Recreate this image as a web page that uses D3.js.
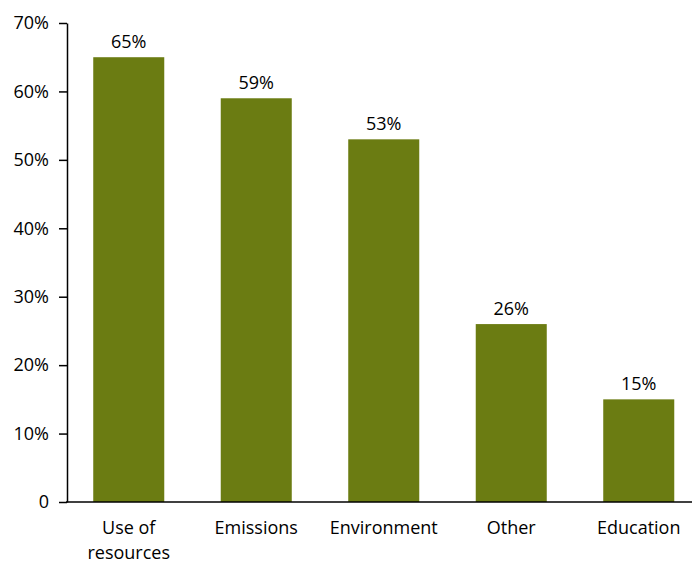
<!DOCTYPE html>
<html><head><meta charset="utf-8">
<script src="https://cdn.jsdelivr.net/npm/d3@7"></script>
<style>body{margin:0;background:#fff}svg{display:block}text{font-family:"Open Sans",sans-serif;fill:#000}</style>
</head><body>
<script>
const categories = [["Use of","resources"],["Emissions"],["Environment"],["Other"],["Education"]];
const values = [0.65, 0.59, 0.53, 0.26, 0.15];
const yTicks = [0,0.1,0.2,0.3,0.4,0.5,0.6,0.7];
const yTickLabels = ["0","10%","20%","30%","40%","50%","60%","70%"];
const valueLabels = ["65%","59%","53%","26%","15%"];

const FS=18, FF="'Open Sans',sans-serif";
const W=692,H=563;
const svg=d3.select("body").append("svg").attr("width",W).attr("height",H);
const x=d3.scaleBand().domain(d3.range(categories.length)).range([65,702.5]).paddingInner(0.443).paddingOuter(0.2215);
const y=d3.scaleLinear().domain([0,0.7]).range([502,23]);

svg.selectAll("rect.bar").data(values).join("rect").attr("class","bar")
 .attr("x",(d,i)=>x(i)).attr("width",x.bandwidth())
 .attr("y",d=>y(d)).attr("height",d=>y(0)-y(d)).attr("fill","#6b7c12");

svg.selectAll("text.val").data(values).join("text").attr("class","val")
 .attr("x",(d,i)=>x(i)+x.bandwidth()/2).attr("y",d=>y(d)-9)
 .attr("text-anchor","middle").attr("font-size",FS).text((d,i)=>valueLabels[i]);

const ya=svg.append("g").attr("transform","translate(67,0)")
 .call(d3.axisLeft(y).tickValues(yTicks).tickFormat((d,i)=>yTickLabels[i]).tickSize(8).tickSizeOuter(0).tickPadding(10));
ya.select(".domain").attr("stroke","#000").attr("stroke-width",1.5);
ya.selectAll(".tick line").attr("stroke","#000").attr("stroke-width",1.5);
ya.selectAll(".tick text").attr("font-size",FS).attr("font-family",FF).attr("fill","#000");

svg.append("line").attr("x1",66).attr("x2",W).attr("y1",y(0)).attr("y2",y(0)).attr("stroke","#000").attr("stroke-width",1.5);

categories.forEach((c,i)=>{
 const t=svg.append("text").attr("x",x(i)+x.bandwidth()/2).attr("y",534).attr("text-anchor","middle").attr("font-size",FS);
 c.forEach((line,j)=>t.append("tspan").attr("x",x(i)+x.bandwidth()/2).attr("dy",j?25:0).text(line));
});
</script>
</body></html>
